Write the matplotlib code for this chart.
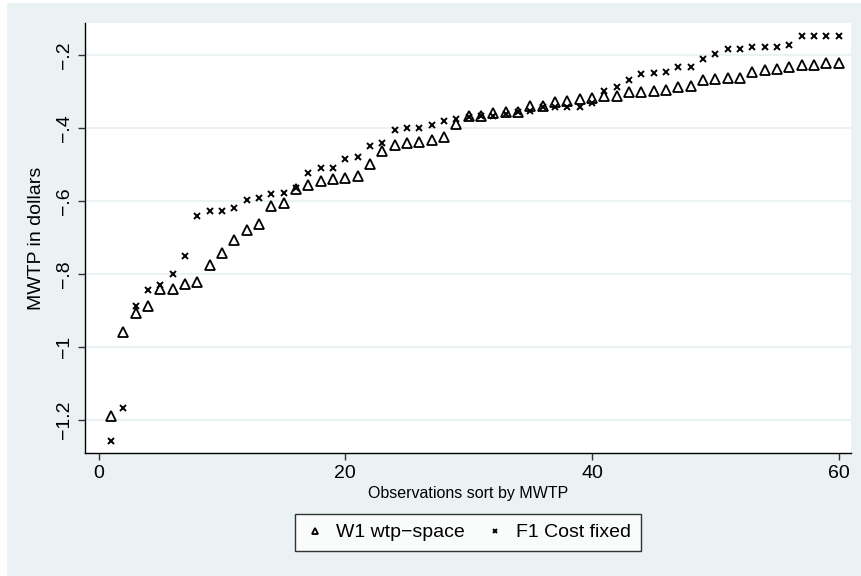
import numpy as np
import matplotlib.pyplot as plt
from matplotlib.patches import Rectangle

plt.rcParams['font.family'] = ['Liberation Sans', 'DejaVu Sans']

# Observation index (sorted by MWTP)
obs = np.arange(1, 61)

# W1 wtp-space
w1 = [-1.19, -0.958, -0.907, -0.888, -0.840, -0.840, -0.826, -0.821, -0.774, -0.743,
      -0.707, -0.679, -0.662, -0.613, -0.605, -0.566, -0.555, -0.544, -0.540, -0.538,
      -0.531, -0.498, -0.463, -0.446, -0.440, -0.439, -0.434, -0.425, -0.390, -0.368,
      -0.367, -0.360, -0.357, -0.355, -0.339, -0.339, -0.329, -0.326, -0.320, -0.317,
      -0.312, -0.312, -0.302, -0.302, -0.298, -0.295, -0.287, -0.286, -0.268, -0.267,
      -0.263, -0.263, -0.248, -0.241, -0.239, -0.234, -0.227, -0.227, -0.221, -0.221]

# F1 Cost fixed
f1 = [-1.258, -1.167, -0.888, -0.845, -0.829, -0.799, -0.751, -0.642, -0.628, -0.627,
      -0.618, -0.597, -0.592, -0.582, -0.578, -0.563, -0.524, -0.510, -0.510, -0.485,
      -0.479, -0.448, -0.442, -0.405, -0.399, -0.399, -0.392, -0.381, -0.376, -0.370,
      -0.367, -0.367, -0.362, -0.356, -0.353, -0.343, -0.343, -0.343, -0.343, -0.332,
      -0.300, -0.289, -0.268, -0.253, -0.250, -0.248, -0.234, -0.232, -0.211, -0.198,
      -0.183, -0.183, -0.179, -0.179, -0.179, -0.173, -0.148, -0.148, -0.148, -0.148]

xticks = [0, 20, 40, 60]
yticks = [-1.2, -1.0, -0.8, -0.6, -0.4, -0.2]
ytick_labels = ['\u22121.2', '\u22121', '\u2212.8', '\u2212.6', '\u2212.4', '\u2212.2']

bg = '#EAF2F3'

fig = plt.figure(figsize=(8.61, 5.76), dpi=100, facecolor='white')
# graph region (slightly inset from the top/left like the original export)
fig.patches.append(Rectangle((7 / 861, 0), 1, 1 - 3 / 576, transform=fig.transFigure,
                             facecolor=bg, edgecolor='none', zorder=-10))

ax = fig.add_axes([85 / 861, 123 / 576, 766 / 861, 430 / 576])
ax.set_facecolor('white')

ax.plot(obs, w1, linestyle='none', marker='^', markersize=7, markerfacecolor='none',
        markeredgecolor='black', markeredgewidth=1.3, label='W1 wtp\u2212space')
ax.plot(obs, f1, linestyle='none', marker='x', markersize=4.5,
        markeredgecolor='black', markeredgewidth=1.4, label='F1 Cost fixed')

ax.set_xlim(-1.1, 61.0)
ax.set_ylim(-1.29, -0.1125)
ax.set_xticks(xticks)
ax.set_yticks(yticks)
ax.set_yticklabels(ytick_labels, rotation=90, va='center')
ax.tick_params(axis='both', labelsize=14, length=5, width=1, color='#333333')

ax.grid(axis='y', color=bg, linewidth=1.5)
ax.set_axisbelow(True)
for s in ['top', 'right']:
    ax.spines[s].set_visible(False)
for s in ['left', 'bottom']:
    ax.spines[s].set_linewidth(1)

ax.set_xlabel('Observations sort by MWTP', fontsize=11.5, labelpad=3)
ax.set_ylabel('MWTP in dollars', fontsize=14, labelpad=8)

leg = fig.legend(loc='upper center', bbox_to_anchor=(468 / 861, 1 - 514 / 576), ncol=2,
                 fontsize=14, frameon=True, fancybox=False, edgecolor='black',
                 markerscale=0.6, handlelength=1.0, handletextpad=0.6, columnspacing=1.05,
                 borderpad=0.5, borderaxespad=0)
leg.get_frame().set_linewidth(1)

fig.savefig('out.png', dpi=100, facecolor=fig.get_facecolor())
